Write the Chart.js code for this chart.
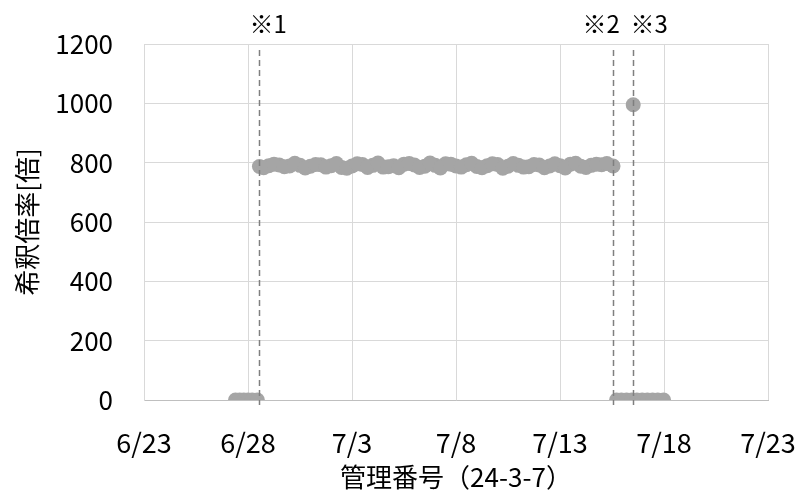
<!DOCTYPE html>
<html>
<head>
  <title>希釈倍率</title>
  <style>
    body { margin: 0; padding: 0; background: #fff; }
    #chart { display: block; }
  </style>
</head>
<body>
<canvas id="chart" width="801" height="493"></canvas>

<script src="https://cdn.jsdelivr.net/npm/chart.js"></script>
<script>
// x values are days after 6/23
const tickLabels = ['6/23', '6/28', '7/3', '7/8', '7/13', '7/18', '7/23'];

const zeroStartDays = [4.4, 4.6, 4.8, 5.0, 5.2, 5.45];
const zeroStartValues = [0, 0, 0, 0, 0, 0];

const bandDays = [5.55, 6.0, 6.5, 7.0, 7.5, 8.0, 8.5, 9.0, 9.5, 10.0, 10.5, 11.0,
  11.5, 12.0, 12.5, 13.0, 13.5, 14.0, 14.5, 15.0, 15.5, 16.0, 16.5, 17.0, 17.5,
  18.0, 18.5, 19.0, 19.5, 20.0, 20.5, 21.0, 21.5, 22.0, 22.55];
const bandValues = [787, 790, 792, 789, 791, 788, 793, 790, 784, 789, 794, 791,
  785, 790, 795, 792, 788, 791, 796, 789, 793, 787, 790, 794, 788, 791,
  786, 792, 789, 790, 795, 788, 791, 793, 789];

const bandDays2 = [5.75, 6.25, 6.75, 7.25, 7.75, 8.25, 8.75, 9.25, 9.75, 10.25,
  10.75, 11.25, 11.75, 12.25, 12.75, 13.25, 13.75, 14.25, 14.75, 15.25, 15.75,
  16.25, 16.75, 17.25, 17.75, 18.25, 18.75, 19.25, 19.75, 20.25, 20.75, 21.25,
  21.75, 22.25];
const bandValues2 = [783, 795, 786, 798, 782, 794, 785, 797, 781, 796, 784, 799,
  786, 783, 797, 784, 799, 782, 795, 785, 798, 783, 796, 781, 797, 785, 794,
  783, 796, 782, 798, 784, 795, 797];

const zeroEndDays = [22.72, 22.95, 23.2, 23.45, 23.7, 23.95, 24.2, 24.45, 24.7, 24.98];
const zeroEndValues = [0, 0, 0, 0, 0, 0, 0, 0, 0, 0];

const spikeDays = [23.52];
const spikeValues = [995];

const noteDays = [5.54, 22.56, 23.52];
const noteLabels = ['※1', '※2', '※3'];

function toPoints(xs, ys) {
  return xs.map((x, i) => ({ x: x, y: ys[i] }));
}

const allPoints = [].concat(
  toPoints(zeroStartDays, zeroStartValues),
  toPoints(bandDays, bandValues),
  toPoints(bandDays2, bandValues2),
  toPoints(zeroEndDays, zeroEndValues),
  toPoints(spikeDays, spikeValues)
);

const fontFamily = '"Noto Sans CJK JP", "Noto Sans", sans-serif';

// dashed note lines with labels above the plot
const noteLines = {
  id: 'noteLines',
  afterDatasetsDraw(chart) {
    const ctx = chart.ctx;
    const xs = chart.scales.x;
    const area = chart.chartArea;
    const labelShift = [-10, -31, -3];
    ctx.save();
    noteDays.forEach((d, i) => {
      const px = Math.round(xs.getPixelForValue(d)) + 0.5;
      ctx.strokeStyle = '#7f7f7f';
      ctx.lineWidth = 1.5;
      ctx.setLineDash([6, 4]);
      ctx.beginPath();
      ctx.moveTo(px, area.top + 6);
      ctx.lineTo(px, area.bottom + 5);
      ctx.stroke();
      ctx.setLineDash([]);
      ctx.fillStyle = '#000';
      ctx.font = '24px ' + fontFamily;
      ctx.textAlign = 'left';
      ctx.textBaseline = 'middle';
      ctx.fillText(noteLabels[i], px + labelShift[i], 24);
    });
    ctx.restore();
  }
};

new Chart(document.getElementById('chart').getContext('2d'), {
  type: 'scatter',
  data: {
    datasets: [{
      data: allPoints,
      backgroundColor: '#a5a5a5',
      borderColor: '#a5a5a5',
      borderWidth: 0,
      pointRadius: 7.5,
      pointHoverRadius: 7.5
    }]
  },
  options: {
    responsive: false,
    animation: false,
    layout: { padding: { top: 44, right: 33, left: 0, bottom: 0 } },
    plugins: {
      legend: { display: false },
      tooltip: { enabled: false }
    },
    scales: {
      x: {
        type: 'linear',
        min: 0,
        max: 30,
        afterBuildTicks(scale) {
          scale.ticks = tickLabels.map((t, i) => ({ value: i * 5 }));
        },
        afterFit(scale) {
          scale.height = 93;
          scale.paddingLeft = 0;
          scale.paddingRight = 0;
        },
        grid: { color: '#d9d9d9', drawTicks: false },
        border: { color: '#bfbfbf' },
        ticks: {
          padding: 27,
          color: '#000',
          font: { family: fontFamily, size: 27 },
          callback: (v) => tickLabels[Math.round(v / 5)]
        },
        title: {
          display: true,
          text: '管理番号（24-3-7）',
          color: '#000',
          font: { family: fontFamily, size: 26 },
          padding: { top: 0, bottom: 0 }
        }
      },
      y: {
        min: 0,
        max: 1200,
        afterFit(scale) {
          scale.width = 144;
          scale.paddingTop = 0;
          scale.paddingBottom = 0;
        },
        grid: { color: '#d9d9d9', drawTicks: false },
        border: { color: '#d9d9d9' },
        ticks: {
          stepSize: 200,
          padding: 31,
          color: '#000',
          font: { family: fontFamily, size: 26 },
          callback: (v) => String(v)
        },
        title: {
          display: true,
          text: '希釈倍率[倍]',
          color: '#000',
          font: { family: fontFamily, size: 26 },
          padding: { top: 12, bottom: 0 }
        }
      }
    }
  },
  plugins: [noteLines]
});
</script>
</body>
</html>
